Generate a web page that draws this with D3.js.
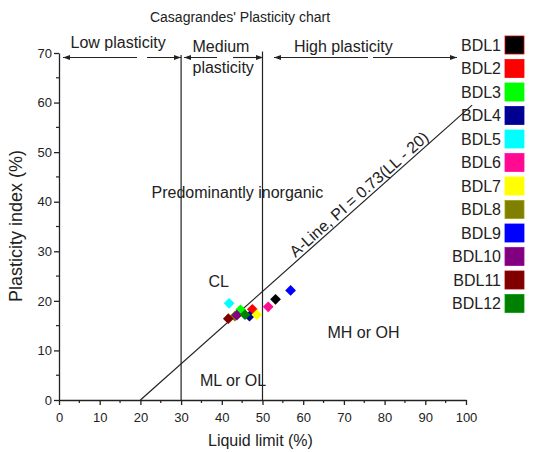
<!DOCTYPE html>
<html>
<head>
<meta charset="utf-8">
<script src="https://cdn.jsdelivr.net/npm/d3@7"></script>
<style>
  body { margin: 0; background: #fff; }
  svg text { font-family: "Liberation Sans", Arial, sans-serif; fill: #222; }
</style>
</head>
<body>
<svg id="chart" width="533" height="452"></svg>
<script>
// Soil samples: liquid limit (LL) and plasticity index (PI)
const samples = ["BDL1","BDL2","BDL3","BDL4","BDL5","BDL6","BDL7","BDL8","BDL9","BDL10","BDL11","BDL12"];
const liquidLimit = [53.2, 47.5, 44.6, 46.8, 41.8, 51.4, 48.6, 43.2, 56.9, 43.7, 41.6, 45.7];
const plasticityIndex = [20.3, 18.3, 18.2, 16.9, 19.5, 18.8, 17.2, 16.9, 22.1, 17.1, 16.4, 17.2];
const sampleColors = ["#000000","#ff0000","#00ff00","#000090","#00ffff","#ff0a90","#ffff00","#808000","#0000ff","#800080","#800000","#008000"];

const xTicks = [0,10,20,30,40,50,60,70,80,90,100];
const yTicks = [0,10,20,30,40,50,60,70];
const plasticityBounds = [30, 50];      // LL limits between low / medium / high
const aLine = { slope: 0.73, ll0: 20, llEnd: 101.5 };

const svg = d3.select("#chart");
const x = d3.scaleLinear().domain([0, 100]).range([59, 466]);
const y = d3.scaleLinear().domain([0, 70]).range([400, 53]);

// Title
svg.append("text").attr("x", 240).attr("y", 22).attr("text-anchor", "middle")
  .style("font-size", "14px").text("Casagrandes' Plasticity chart");

// Axes
const xAxis = d3.axisBottom(x).tickValues(xTicks).tickSize(5).tickSizeOuter(0).tickPadding(8);
const yAxis = d3.axisLeft(y).tickValues(yTicks).tickSize(5).tickSizeOuter(0).tickPadding(2);
const gx = svg.append("g").attr("transform", `translate(0,${y(0)})`).call(xAxis);
const gy = svg.append("g").attr("transform", `translate(${x(0)},0)`).call(yAxis);
[gx, gy].forEach(g => {
  g.select(".domain").attr("stroke", "#222").attr("stroke-width", 1.3);
  g.selectAll(".tick line").attr("stroke", "#222").attr("stroke-width", 1.3);
  g.selectAll(".tick text").style("font-size", "13px").attr("fill", "#222")
    .style("font-family", "'Liberation Sans', Arial, sans-serif");
});
// Minor ticks
svg.append("g").selectAll("line").data(d3.range(5, 100, 10)).join("line")
  .attr("x1", d => x(d)).attr("x2", d => x(d)).attr("y1", y(0)).attr("y2", y(0) + 3)
  .attr("stroke", "#222").attr("stroke-width", 1.2);
svg.append("g").selectAll("line").data(d3.range(5, 70, 10)).join("line")
  .attr("x1", x(0) - 3).attr("x2", x(0)).attr("y1", d => y(d)).attr("y2", d => y(d))
  .attr("stroke", "#222").attr("stroke-width", 1.2);

// Axis titles
svg.append("text").attr("x", 208).attr("y", 446)
  .style("font-size", "16px").text("Liquid limit (%)");
svg.append("text").attr("transform", "translate(22,226) rotate(-90)").attr("text-anchor", "middle")
  .style("font-size", "18px").text("Plasticity index (%)");

// Boundary lines at LL = 30 and LL = 50
svg.append("g").selectAll("line").data(plasticityBounds).join("line")
  .attr("x1", d => x(d)).attr("x2", d => x(d))
  .attr("y1", y(0)).attr("y2", (d, i) => i === 0 ? y(69.6) : y(70.3))
  .attr("stroke", "#222").attr("stroke-width", 1.2);

// A-line
const aPI = ll => aLine.slope * (ll - aLine.ll0);
svg.append("line")
  .attr("x1", x(aLine.ll0)).attr("y1", y(aPI(aLine.ll0)))
  .attr("x2", x(aLine.llEnd)).attr("y2", y(aPI(aLine.llEnd)))
  .attr("stroke", "#222").attr("stroke-width", 1.2);
const angle = Math.atan2(y(aPI(100)) - y(aPI(20)), x(100) - x(20)) * 180 / Math.PI;
const llStart = 58.6;
svg.append("text")
  .attr("transform", `translate(${x(llStart)},${y(aPI(llStart))}) rotate(${angle}) translate(0,-3)`)
  .style("font-size", "16px").text("A-Line, PI = 0.73(LL - 20)");

// Plasticity range arrows
const defs = svg.append("defs");
defs.append("marker").attr("id", "head").attr("viewBox", "0 0 10 10")
  .attr("refX", 10).attr("refY", 5).attr("markerWidth", 7).attr("markerHeight", 7)
  .attr("markerUnits", "userSpaceOnUse").attr("orient", "auto")
  .append("path").attr("d", "M0,1.5 L10,5 L0,8.5 Z").attr("fill", "#222");
const arrowY = 57.5;
const arrows = [[137, 63], [147, 181], [217, 184], [233, 263], [368, 274], [373, 457]];
svg.append("g").selectAll("line").data(arrows).join("line")
  .attr("x1", d => d[0]).attr("x2", d => d[1]).attr("y1", arrowY).attr("y2", arrowY)
  .attr("stroke", "#222").attr("stroke-width", 1.1).attr("marker-end", "url(#head)");

const labels = [
  { t: "Low plasticity", x: 70.5, y: 48 },
  { t: "Medium", x: 192.5, y: 52 },
  { t: "plasticity", x: 192.5, y: 73 },
  { t: "High plasticity", x: 294, y: 52 },
  { t: "Predominantly inorganic", x: 151.5, y: 198 },
  { t: "CL", x: 208.5, y: 286.5 },
  { t: "MH or OH", x: 327.5, y: 338 },
  { t: "ML or OL", x: 200, y: 386 }
];
svg.append("g").selectAll("text").data(labels).join("text")
  .attr("x", d => d.x).attr("y", d => d.y)
  .style("font-size", "16px").text(d => d.t);

// Sample points (diamonds)
const pts = samples.map((s, i) => ({ s, ll: liquidLimit[i], pi: plasticityIndex[i], c: sampleColors[i] }));
svg.append("g").selectAll("path").data(pts).join("path")
  .attr("d", d3.symbol(d3.symbolSquare, 58))
  .attr("transform", d => `translate(${x(d.ll)},${y(d.pi)}) rotate(45)`)
  .attr("fill", d => d.c);

// Legend
const legend = svg.append("g").selectAll("g").data(pts).join("g")
  .attr("transform", (d, i) => `translate(0,${45 + i * 23.5})`);
legend.append("text").attr("x", 501).attr("y", 5.5).attr("text-anchor", "end")
  .style("font-size", "16px").text(d => d.s);
legend.append("rect").attr("x", 505).attr("y", -9).attr("width", 19).attr("height", 18)
  .attr("fill", d => d.c)
  .attr("stroke", (d, i) => i === 0 ? "#e00000" : d3.color(d.c).brighter(0.6))
  .attr("stroke-width", 0.8);
</script>
</body>
</html>
